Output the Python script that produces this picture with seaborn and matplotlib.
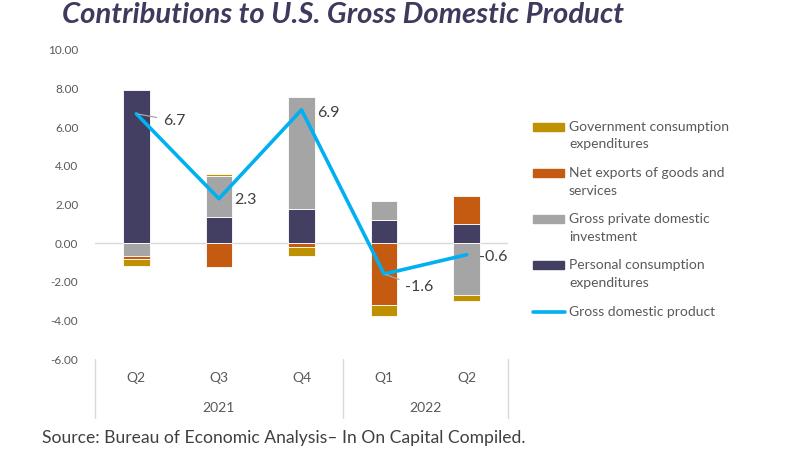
import numpy as np
import pandas as pd
import matplotlib
matplotlib.use("Agg")
import matplotlib.pyplot as plt
from matplotlib.patches import Rectangle
from matplotlib.lines import Line2D
import seaborn as sns

# ---- data ----
quarters = ["Q2", "Q3", "Q4", "Q1", "Q2"]
years = ["2021", "2021", "2021", "2022", "2022"]
pce = [7.92, 1.33, 1.76, 1.21, 0.97]      # Personal consumption expenditures
gpdi = [-0.65, 2.12, 5.83, 0.97, -2.69]   # Gross private domestic investment
netx = [-0.17, -1.25, -0.18, -3.21, 1.46] # Net exports of goods and services
gov = [-0.37, 0.12, -0.48, -0.55, -0.31]  # Government consumption expenditures
gdp = [6.7, 2.3, 6.9, -1.6, -0.6]         # Gross domestic product
yticks = [-6, -4, -2, 0, 2, 4, 6, 8, 10]

C_GOV, C_NX, C_GPDI, C_PCE = "#BF9000", "#C55A11", "#A5A5A5", "#433F62"
C_GDP = "#00B0F0"
TXT = "#595959"

sns.set_theme(style="white")
plt.rcParams["font.family"] = ["Lato", "DejaVu Sans"]

fig = plt.figure(figsize=(7.86, 4.51), dpi=100)
W, H = 786, 451
ax = fig.add_axes([95 / W, 1 - 359 / H, (508 - 95) / W, (359 - 50) / H])

keys = [f"{y} {q}" for y, q in zip(years, quarters)]
pos = np.zeros(len(keys))
neg = np.zeros(len(keys))
for vals, col in [(pce, C_PCE), (gpdi, C_GPDI), (netx, C_NX), (gov, C_GOV)]:
    v = np.array(vals, dtype=float)
    bottom = np.where(v >= 0, pos, neg)
    sns.barplot(x=keys, y=v, order=keys, bottom=bottom, color=col, saturation=1,
                width=0.32, edgecolor="white", linewidth=0.6, errorbar=None, ax=ax)
    pos = pos + np.where(v >= 0, v, 0)
    neg = neg + np.where(v < 0, v, 0)

xs = np.arange(len(keys))
sns.lineplot(x=xs, y=gdp, color=C_GDP, linewidth=2.6, ax=ax, legend=False)

# value labels (offsets in points)
offsets = [(19, -5, True), (11, -1, False), (11, -2, False), (15, -9, True), (9, -1.5, False)]
for i, (g, (dx, dy, lead)) in enumerate(zip(gdp, offsets)):
    kw = dict(arrowprops=dict(arrowstyle="-", color="#A6A6A6", lw=0.9, shrinkA=2, shrinkB=1)) if lead else {}
    ax.annotate(f"{g:.1f}", xy=(i, g), xytext=(dx, dy), textcoords="offset points",
                ha="left", va="center", fontsize=11.5, color="#404040", **kw)

ax.set_xlim(-0.5, 4.5)
ax.set_ylim(-6, 10)
ax.set_yticks(yticks)
ax.set_yticklabels([f"{t:.2f}" for t in yticks], fontsize=8.5, color=TXT)
ax.tick_params(axis="y", length=0, pad=12)
ax.set_xticks([])
ax.set_xlabel("")
ax.set_ylabel("")
for s in ax.spines.values():
    s.set_visible(False)
ax.axhline(0, color="#D9D9D9", lw=1, zorder=0.5)

# two-level category axis
trans = ax.get_xaxis_transform()
for i, q in enumerate(quarters):
    ax.text(i, -19 / 309, q, transform=trans, ha="center", va="center", fontsize=10, color=TXT)
for yr in sorted(set(years)):
    idx = [i for i, y in enumerate(years) if y == yr]
    ax.text(np.mean(idx), -49 / 309, yr, transform=trans, ha="center", va="center", fontsize=10, color=TXT)
for xb in [-0.5, 2.5, 4.5]:
    ax.add_line(Line2D([xb, xb], [0, -59 / 309], transform=trans, color="#D9D9D9", lw=1, clip_on=False))

# legend (manual, handle aligned with first text line)
leg_items = [("patch", C_GOV, ["Government consumption", "expenditures"], 126.7),
             ("patch", C_NX, ["Net exports of goods and", "services"], 173.3),
             ("patch", C_GPDI, ["Gross private domestic", "investment"], 219.3),
             ("patch", C_PCE, ["Personal consumption", "expenditures"], 265.3),
             ("line", C_GDP, ["Gross domestic product"], 311.7)]
for kind, col, lines, yc in leg_items:
    if kind == "patch":
        fig.add_artist(Rectangle((533 / W, 1 - (yc + 4) / H), 31 / W, 8 / H,
                                 transform=fig.transFigure, color=col))
    else:
        fig.add_artist(Line2D([533 / W, 565 / W], [1 - yc / H, 1 - yc / H],
                              transform=fig.transFigure, color=col, lw=2.6))
    for k, ln in enumerate(lines):
        fig.text(569 / W, 1 - (yc + 17.7 * k) / H, ln, ha="left", va="center",
                 fontsize=10, color=TXT)

fig.text(62 / W, 1 - 15 / H, "Contributions to U.S. Gross Domestic Product",
         ha="left", va="center", fontsize=21.1, fontweight="bold", fontstyle="italic", color="#3E3A5E")
fig.text(42 / W, 1 - 438 / H, "Source: Bureau of Economic Analysis\u2013 In On Capital Compiled.",
         ha="left", va="center", fontsize=12.6, color="#404040")

fig.savefig("out.png", dpi=100)
